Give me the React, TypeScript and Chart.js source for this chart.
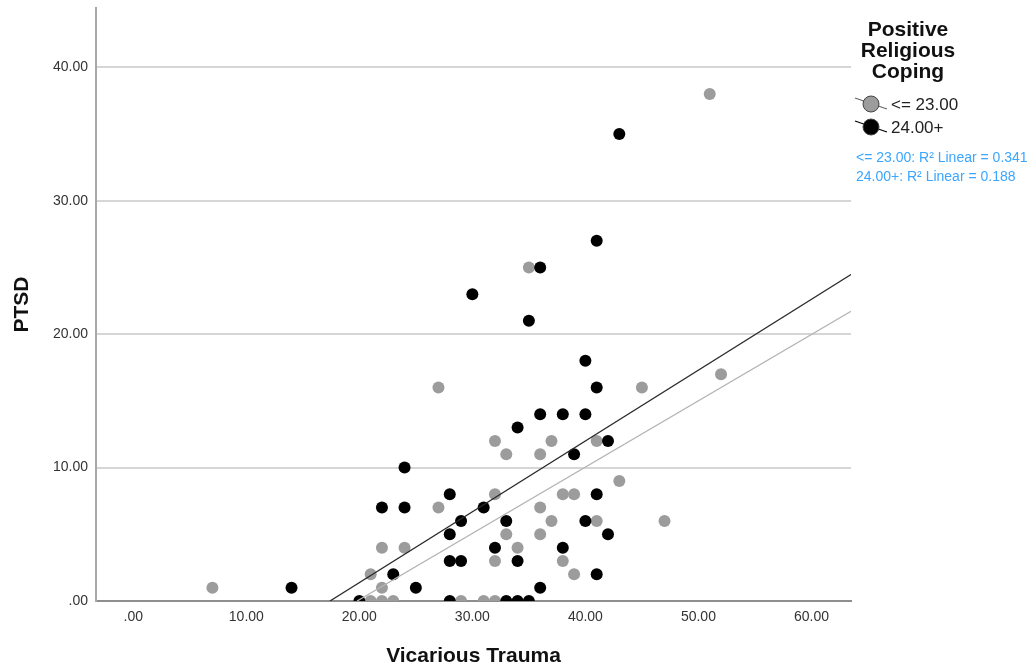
import React, { useEffect, useRef } from "react";
import { Chart, registerables } from "chart.js";

Chart.register(...registerables);

// Group "<= 23.00" (gray)
const lowX = [7, 21, 21, 22, 22, 22, 23, 24, 27, 27, 29, 31, 32, 32, 32, 32, 33, 33, 34, 35, 36, 36, 36, 37, 37, 38, 38, 39, 39, 41, 41, 43, 45, 47, 51, 52];
const lowY = [1, 2, 0, 4, 1, 0, 0, 4, 16, 7, 0, 0, 12, 8, 3, 0, 11, 5, 4, 25, 11, 7, 5, 12, 6, 8, 3, 8, 2, 12, 6, 9, 16, 6, 38, 17];

// Group "24.00+" (black)
const highX = [14, 20, 22, 23, 24, 24, 25, 28, 28, 28, 28, 29, 29, 30, 31, 32, 33, 33, 34, 34, 34, 35, 35, 36, 36, 36, 38, 38, 39, 40, 40, 40, 41, 41, 41, 41, 42, 42, 43];
const highY = [1, 0, 7, 2, 10, 7, 1, 8, 5, 3, 0, 6, 3, 23, 7, 4, 6, 0, 13, 3, 0, 21, 0, 25, 14, 1, 14, 4, 11, 18, 14, 6, 27, 16, 8, 2, 12, 5, 35];

// Fit lines (slope, intercept)
const lowFit = [0.497, -9.84];
const highFit = [0.531, -9.24];

const groupLabels = ["<= 23.00", "24.00+"];
const r2Labels = ["<= 23.00: R\u00B2 Linear = 0.341", "24.00+: R\u00B2 Linear = 0.188"];
const legendTitle = ["Positive", "Religious", "Coping"];

const xTicks = [0, 10, 20, 30, 40, 50, 60];
const yTicks = [0, 10, 20, 30, 40];
const xRange = [-3.3, 63.5];
const yRange = [0, 44.45];

const FONT = '"Liberation Sans", Arial, sans-serif';
const GRAY = "#9c9c9c";

const fmt = (v: number) => (v === 0 ? ".00" : v.toFixed(2));

function fitLine(fit: number[]) {
  const [m, b] = fit;
  const x0 = -b / m;
  const x1 = xRange[1];
  return [
    { x: x0, y: 0 },
    { x: x1, y: m * x1 + b },
  ];
}

const legendPlugin = {
  id: "spssLegend",
  afterDraw(chart: any) {
    const ctx = chart.ctx as CanvasRenderingContext2D;
    ctx.save();
    ctx.fillStyle = "#111";
    ctx.font = `bold 21px ${FONT}`;
    ctx.textAlign = "center";
    ctx.textBaseline = "middle";
    const titleY = [30, 51, 72];
    legendTitle.forEach((t, i) => ctx.fillText(t, 908, titleY[i]));

    const itemY = [104, 127];
    const fills = [GRAY, "#000"];
    const lines = ["#666", "#000"];
    itemY.forEach((cy, i) => {
      ctx.strokeStyle = lines[i];
      ctx.lineWidth = 1.2;
      ctx.beginPath();
      ctx.moveTo(855, cy - 6);
      ctx.lineTo(887, cy + 5);
      ctx.stroke();
      ctx.beginPath();
      ctx.arc(871, cy, 8, 0, Math.PI * 2);
      ctx.fillStyle = fills[i];
      ctx.fill();
      ctx.strokeStyle = "#444";
      ctx.lineWidth = 1;
      ctx.stroke();
      ctx.fillStyle = "#222";
      ctx.font = `17px ${FONT}`;
      ctx.textAlign = "left";
      ctx.fillText(groupLabels[i], 891, cy + 1);
    });

    ctx.fillStyle = "#3aa6ff";
    ctx.font = `14px ${FONT}`;
    ctx.textAlign = "left";
    const r2Y = [158, 177];
    r2Labels.forEach((t, i) => ctx.fillText(t, 856, r2Y[i]));
    ctx.restore();
  },
};

export default function App() {
  const ref = useRef<HTMLCanvasElement | null>(null);
  useEffect(() => {
    if (!ref.current) return;
    const chart = new Chart(ref.current, {
      type: "scatter",
      data: {
        datasets: [
          {
            type: "line",
            data: fitLine(highFit),
            borderColor: "#2a2a2a",
            borderWidth: 1.3,
            pointRadius: 0,
            fill: false,
          } as any,
          {
            type: "line",
            data: fitLine(lowFit),
            borderColor: "#b4b4b4",
            borderWidth: 1.3,
            pointRadius: 0,
            fill: false,
          } as any,
          {
            data: highX.map((x, i) => ({ x, y: highY[i] })),
            backgroundColor: "#000",
            borderWidth: 0,
            pointRadius: 6,
          },
          {
            data: lowX.map((x, i) => ({ x, y: lowY[i] })),
            backgroundColor: GRAY,
            borderWidth: 0,
            pointRadius: 6,
          },
        ],
      },
      options: {
        animation: false,
        responsive: false,
        devicePixelRatio: 1,
        layout: { padding: { top: 8, right: 185, left: 0, bottom: 0 } },
        plugins: { legend: { display: false }, tooltip: { enabled: false } },
        scales: {
          x: {
            type: "linear",
            min: xRange[0],
            max: xRange[1],
            afterBuildTicks: (s: any) => {
              s.ticks = xTicks.map((v) => ({ value: v }));
            },
            afterFit: (s: any) => {
              s.height = 68;
              s.paddingLeft = 0;
              s.paddingRight = 0;
            },
            grid: { display: false, drawTicks: false },
            border: { display: true, color: "#8e8e8e", width: 2 },
            ticks: {
              padding: 8,
              color: "#333",
              font: { family: FONT, size: 14 },
              callback: (v: any) => fmt(Number(v)),
            },
            title: {
              display: true,
              text: "Vicarious Trauma",
              color: "#111",
              font: { family: FONT, size: 21, weight: "bold" },
              padding: { top: 0, bottom: 0 },
            },
          },
          y: {
            type: "linear",
            min: yRange[0],
            max: yRange[1],
            afterBuildTicks: (s: any) => {
              s.ticks = yTicks.map((v) => ({ value: v }));
            },
            afterFit: (s: any) => {
              s.width = 96;
              s.paddingTop = 0;
              s.paddingBottom = 0;
            },
            grid: {
              drawTicks: false,
              color: (c: any) => (c.tick && c.tick.value === 0 ? "rgba(0,0,0,0)" : "#d6d6d6"),
              lineWidth: 2,
            },
            border: { display: true, color: "#a8a8a8", width: 2 },
            ticks: {
              padding: 8,
              color: "#333",
              font: { family: FONT, size: 14 },
              callback: (v: any) => fmt(Number(v)),
            },
            title: {
              display: true,
              text: "PTSD",
              color: "#111",
              font: { family: FONT, size: 21, weight: "bold" },
              padding: { top: 10, bottom: 0 },
            },
          },
        },
      },
      plugins: [legendPlugin],
    });
    return () => chart.destroy();
  }, []);

  return (
    <div style={{ position: "absolute", left: 0, top: 0, width: 1036, height: 669, background: "#fff" }}>
      <canvas ref={ref} width={1036} height={669} style={{ width: 1036, height: 669, display: "block" }} />
    </div>
  );
}
